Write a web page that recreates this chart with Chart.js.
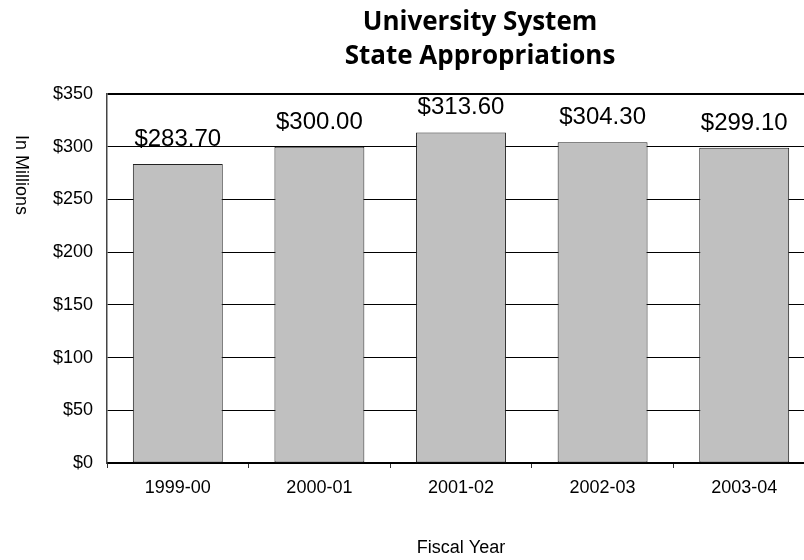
<!DOCTYPE html>
<html><head><meta charset="utf-8">
<script src="https://cdn.jsdelivr.net/npm/chart.js@4/dist/chart.umd.min.js"></script>
<style>html,body{margin:0;padding:0;overflow:hidden;background:#fff}#wrap{width:960px;height:560px}</style>
</head><body><div id="wrap"><canvas id="c" width="960" height="560"></canvas></div>
<script>
const categories = ['1999-00', '2000-01', '2001-02', '2002-03', '2003-04'];
const appropriations = [283.70, 300.00, 313.60, 304.30, 299.10];
const titleLines = ['University System', 'State Appropriations'];
const xTitle = 'Fiscal Year';
const yTitle = 'In Millions';
const yMin = 0, yMax = 350, yStep = 50;

const FONT = "'Liberation Sans', Arial, sans-serif";

const valueLabels = {
  id: 'valueLabels',
  afterDatasetsDraw(chart) {
    const ctx = chart.ctx;
    const meta = chart.getDatasetMeta(0);
    ctx.save();
    ctx.font = '24px ' + FONT;
    ctx.fillStyle = '#000';
    ctx.textAlign = 'center';
    ctx.textBaseline = 'alphabetic';
    meta.data.forEach((bar, i) => {
      const v = chart.data.datasets[0].data[i];
      ctx.fillText('$' + v.toFixed(2), bar.x, bar.y - 18);
    });
    ctx.restore();
  }
};

const yAxisTitle = {
  id: 'yAxisTitle',
  afterDraw(chart) {
    const ctx = chart.ctx;
    ctx.save();
    ctx.translate(16, 135);
    ctx.rotate(Math.PI / 2);
    ctx.font = '18px ' + FONT;
    ctx.fillStyle = '#000';
    ctx.textAlign = 'left';
    ctx.textBaseline = 'alphabetic';
    ctx.fillText(yTitle, 0, 0);
    ctx.restore();
  }
};

new Chart(document.getElementById('c'), {
  type: 'bar',
  data: {
    labels: categories,
    datasets: [{
      data: appropriations,
      backgroundColor: '#c0c0c0',
      borderColor: '#222',
      borderWidth: 1,
      borderSkipped: false,
      barPercentage: 0.635,
      categoryPercentage: 1.0,
      yAxisID: 'y'
    }]
  },
  options: {
    responsive: false,
    animation: false,
    devicePixelRatio: 1,
    layout: { padding: 0 },
    plugins: {
      legend: { display: false },
      tooltip: { enabled: false },
      title: {
        display: true,
        text: titleLines,
        color: '#000',
        font: { family: "'Open Sans', sans-serif", size: 26, weight: 'bold', lineHeight: 1.31 },
        padding: { top: 6, bottom: 20 }
      }
    },
    scales: {
      x: {
        grid: { display: true, drawOnChartArea: false, drawTicks: true, tickLength: 5, color: '#333', offset: true },
        border: { display: true, color: '#000', width: 2 },
        ticks: { color: '#000', font: { family: FONT, size: 18 }, padding: 9, maxRotation: 0 },
        title: { display: true, text: xTitle, color: '#000', font: { family: FONT, size: 18 }, padding: { top: 0, bottom: 1 } },
        afterFit(scale) { scale.height = 97; }
      },
      y: {
        position: 'left',
        min: yMin, max: yMax,
        grid: {
          color: '#000',
          lineWidth: (c) => (c.tick && c.tick.value === yMax ? 2 : 1),
          drawTicks: false
        },
        border: { display: true, color: '#444', width: 1.5 },
        ticks: {
          stepSize: yStep,
          color: '#000',
          font: { family: FONT, size: 18 },
          padding: 14,
          callback: (v) => '$' + v
        },
        afterFit(scale) { scale.width = 107; }
      },
      yRight: {
        position: 'right',
        display: true,
        grid: { display: false, drawTicks: false },
        border: { display: false },
        ticks: { display: false },
        afterFit(scale) { scale.width = 145; }
      }
    }
  },
  plugins: [valueLabels, yAxisTitle]
});
</script>
</body></html>
